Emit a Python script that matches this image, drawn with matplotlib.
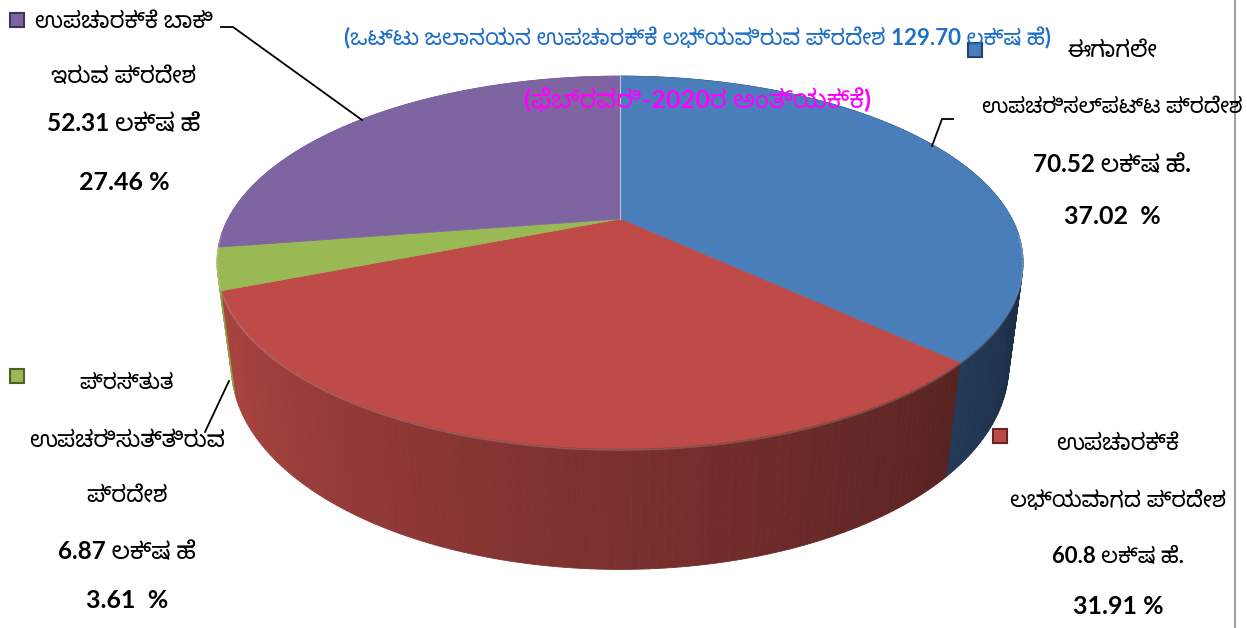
import numpy as np
import matplotlib
matplotlib.use("Agg")
import matplotlib.pyplot as plt
from matplotlib.patches import Polygon, Rectangle
from matplotlib import font_manager, ft2font

# Data (lakh hectares and share in %).
names = ["ಈಗಾಗಲೇ\nಉಪಚರಿಸಲ್ಪಟ್ಟ ಪ್ರದೇಶ", "ಉಪಚಾರಕ್ಕೆ\nಲಭ್ಯವಾಗದ ಪ್ರದೇಶ",
         "ಪ್ರಸ್ತುತ\nಉಪಚರಿಸುತ್ತಿರುವ\nಪ್ರದೇಶ", "ಉಪಚಾರಕ್ಕೆ ಬಾಕಿ\nಇರುವ ಪ್ರದೇಶ"]
area = ["70.52", "60.8", "6.87", "52.31"]
area_unit = ["ಲಕ್ಷ ಹೆ.", "ಲಕ್ಷ ಹೆ.", "ಲಕ್ಷ ಹೆ", "ಲಕ್ಷ ಹೆ"]
share = [37.02, 31.91, 3.61, 27.46]
share_txt = ["37.02  %", "31.91 %", "3.61  %", "27.46 %"]
colors = ["#4A7EBB", "#BE4B48", "#98B954", "#7F64A2"]
title1 = "(ಒಟ್ಟು ಜಲಾನಯನ ಉಪಚಾರಕ್ಕೆ ಲಭ್ಯವಿರುವ ಪ್ರದೇಶ 129.70 ಲಕ್ಷ ಹೆ)"
title2 = "(ಫೆಬ್ರವರಿ-2020ರ ಅಂತ್ಯಕ್ಕೆ)"

# Find a font that has Kannada glyphs, prefer a real Kannada sans family.
found = []
for f in font_manager.fontManager.ttflist:
    try:
        if 0x0C95 in ft2font.FT2Font(f.fname).get_charmap():
            found.append(f.name)
    except Exception:
        pass
def rank(n):
    return (0 if "Kannada" in n else 1, 1 if "Mono" in n else 0, 0 if "Sans" in n else 1)
found = sorted(set(found), key=rank)
kn = found[0] if found else None
fam = ["Lato", kn, "DejaVu Sans"] if kn else ["Lato", "DejaVu Sans"]
plt.rcParams['font.family'] = fam

fig = plt.figure(figsize=(12.47, 6.28), dpi=100)
ax = fig.add_axes([0, 0, 1, 1])
ax.set_xlim(0, 1247)
ax.set_ylim(628, 0)
ax.axis('off')
rend = fig.canvas.get_renderer()

def fit_text(x, y, s, width, size, slack=1.15, minsize=14, right=1226, **kw):
    # shrink the text if it is much wider than in the reference or hits the frame
    txt = ax.text(x, y, s, fontsize=size, ha="center", va="center", **kw)
    w = txt.get_window_extent(rend).width
    lim = min(width*slack, 2*(right - x))
    if w > lim:
        txt.set_fontsize(max(minsize, size*lim/w))
    return txt

# simple perspective view of a flat cylinder
cx, cy, S = 620, 219, 392
a = np.radians(26.7)
D = 3.84
t = 0.30

def proj(th, h):
    u, v = np.sin(th), np.cos(th)
    yp = h*np.cos(a) + v*np.sin(a)
    zp = -h*np.sin(a) + v*np.cos(a)
    f = D/(D+zp)
    return cx + S*u*f, cy - S*yp*f

def shade(col, th):
    k = 0.45 + (np.degrees(th)-130)/110*0.42
    k = min(max(k, 0.35), 1.0)
    return tuple(np.array(matplotlib.colors.to_rgb(col))*k)

bounds = np.radians(np.concatenate([[0], np.cumsum(share)/sum(share)*360]))

# side walls, back to front
strips = []
for i in range(len(share)):
    th = np.linspace(bounds[i], bounds[i+1], max(4, int((bounds[i+1]-bounds[i])*60)))
    for j in range(len(th)-1):
        t0, t1 = th[j], th[j+1]
        x0, y0 = proj(t0, 0); x1, y1 = proj(t1, 0)
        x2, y2 = proj(t1, -t); x3, y3 = proj(t0, -t)
        c = shade(colors[i], (t0+t1)/2)
        strips.append((np.cos((t0+t1)/2), [(x0, y0), (x1, y1), (x2, y2), (x3, y3)], c))
strips.sort(key=lambda s: -s[0])
for _, pts, c in strips:
    ax.add_patch(Polygon(pts, closed=True, facecolor=c, edgecolor=c, lw=0.6))

# top faces
for i in range(len(share)):
    th = np.linspace(bounds[i], bounds[i+1], 200)
    xs, ys = proj(th, 0)
    pts = [(cx, cy)] + list(zip(xs, ys))
    ax.add_patch(Polygon(pts, closed=True, facecolor=colors[i], edgecolor=colors[i], lw=0.5))
ax.plot([cx, cx], [cy, proj(0, 0)[1]], color="white", lw=0.8, alpha=0.6)

# light rim on the front edge
th = np.linspace(np.radians(95), np.radians(265), 200)
xs, ys = proj(th, 0)
ax.plot(xs, ys+1.5, color="white", lw=1.2, alpha=0.18)

# titles
fit_text(697, 38, title1, 707, 19, slack=1.0, color="#1F6FC8", fontweight="bold")
fit_text(698, 100, title2, 330, 19, slack=1.05, color="#FF00FF", fontweight="bold")

# labels: (x centre, y of each line, widths of the name lines), legend square
lab_pos = [(1112, [50, 107, 164, 216], [105, 228]),
           (1118, [443, 500, 556, 606], [107, 200]),
           (127, [383, 440, 495, 551, 601], [68, 173, 68]),
           (124, [22, 77, 123, 182], [175, 140])]
num_w = [138, 115, 120, 134]
sq_pos = [(968, 43), (993, 429), (10, 369), (10, 13)]
for i in range(len(share)):
    xc, ys_, ws = lab_pos[i]
    lines = names[i].split("\n")
    for k, ln in enumerate(lines):
        fit_text(xc, ys_[k], ln, ws[k], 16.5, slack=1.3, minsize=15.5, color="black")
    fit_text(xc, ys_[len(lines)], area[i] + " " + area_unit[i], num_w[i], 18,
             fontweight="bold", color="black")
    ax.text(xc, ys_[len(lines)+1], share_txt[i], fontsize=18, fontweight="bold",
            ha="center", va="center", color="black")
    sx, sy = sq_pos[i]
    ax.add_patch(Rectangle((sx, sy), 14, 14, facecolor=colors[i],
                           edgecolor=shade(colors[i], np.radians(150)), lw=1.5))

# leader lines
ax.plot([221, 233, 362], [27, 27, 120], color="black", lw=1.3)
ax.plot([932, 942, 953], [146, 119, 119], color="black", lw=1.3)
ax.plot([229, 205], [381, 432], color="black", lw=1.3)

# frame edge on the right
ax.plot([1235, 1235], [0, 628], color="#A0A0A0", lw=1.5)

fig.savefig("out.png", dpi=100)
